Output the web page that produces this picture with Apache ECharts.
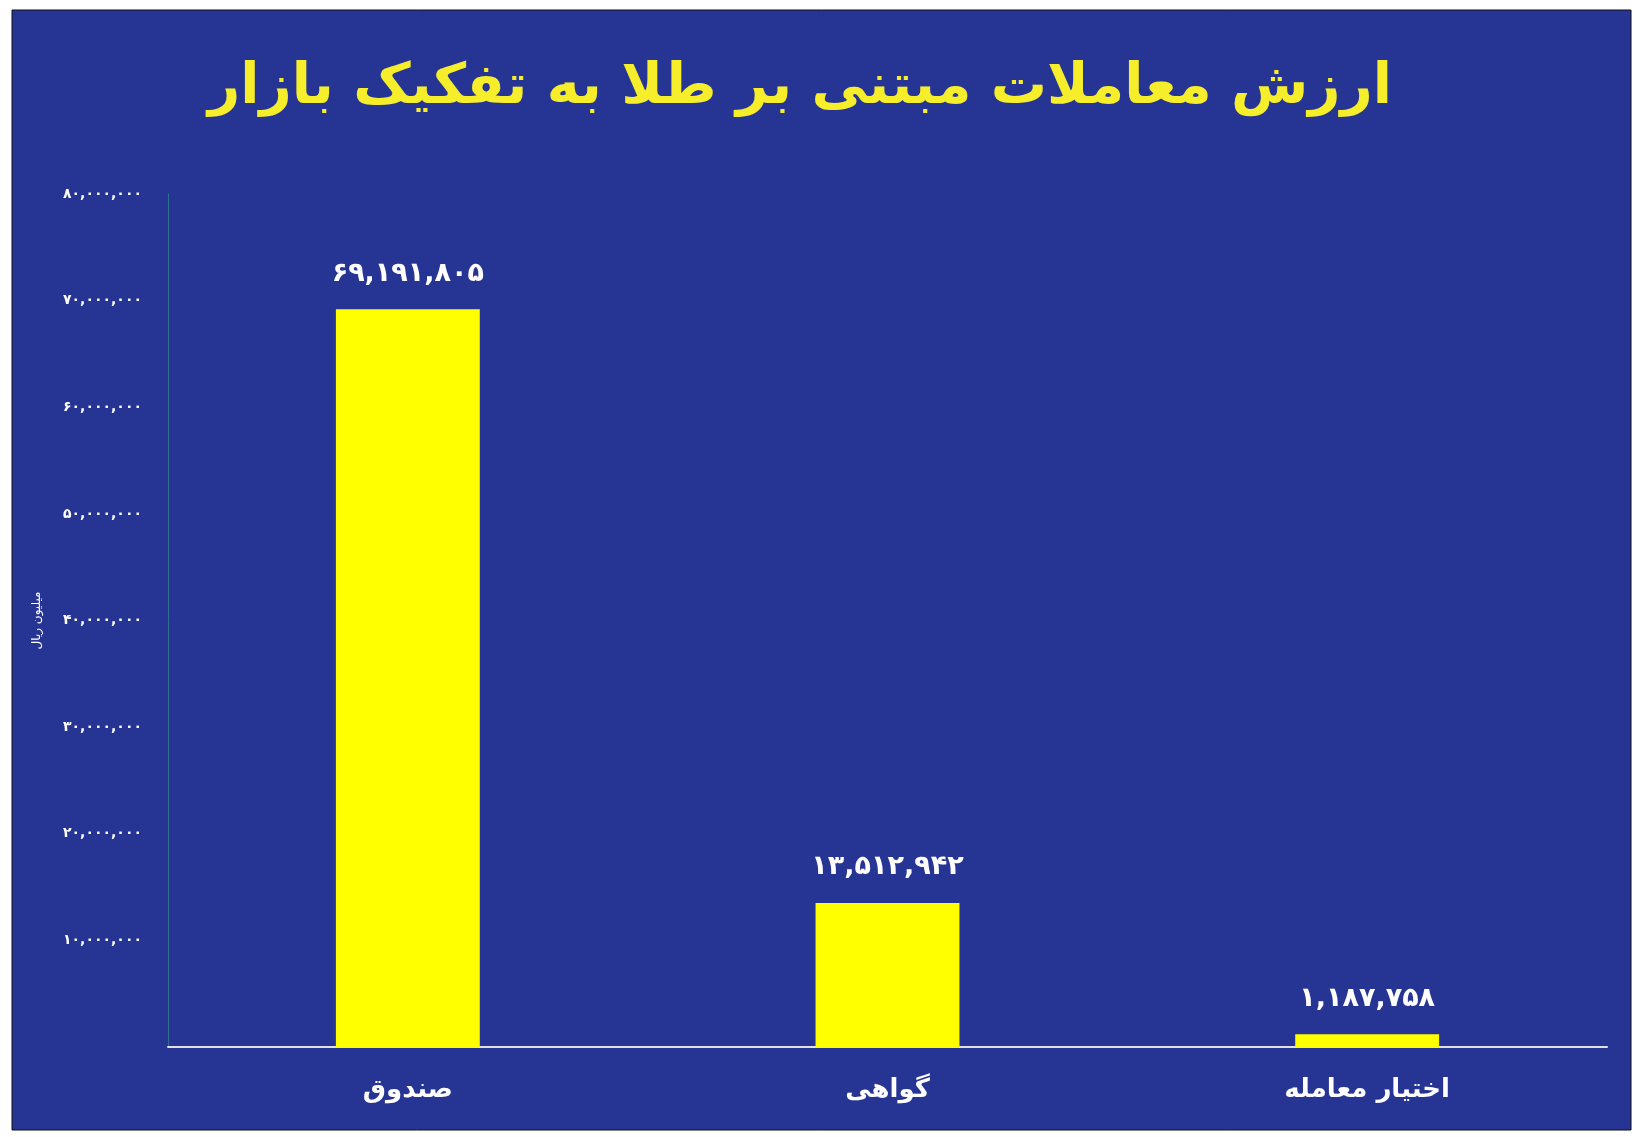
<!DOCTYPE html>
<html><head><meta charset="utf-8">
<script src="https://cdn.jsdelivr.net/npm/echarts@6/dist/echarts.min.js"></script>
<style>html,body{margin:0;padding:0;background:#fff}#c{width:1642px;height:1137px}</style>
</head><body><div id="c"></div>
<script>
const categories = ['صندوق', 'گواهی', 'اختیار معامله'];
const values = [69191805, 13512942, 1187758];
const yTicks = [0, 10000000, 20000000, 30000000, 40000000, 50000000, 60000000, 70000000, 80000000];
const titleText = 'ارزش معاملات مبتنی بر طلا به تفکیک بازار';
const axisName = 'میلیون ریال';

function fa(n) {
  return n.toLocaleString('en-US').replace(/\d/g, d => '۰۱۲۳۴۵۶۷۸۹'[d]);
}
const F = "'DejaVu Sans', sans-serif";
const chart = echarts.init(document.getElementById('c'));
chart.setOption({
  backgroundColor: '#ffffff',
  graphic: [{
    type: 'rect', z: -10, silent: true,
    shape: { x: 12, y: 10, width: 1619, height: 1120 },
    style: { fill: '#263594', stroke: '#111', lineWidth: 1 }
  }],
  title: {
    text: titleText, left: 795, textAlign: 'center', top: 55,
    textStyle: { color: '#f7ee2b', fontSize: 56, fontWeight: 'bold', fontFamily: F }
  },
  grid: { left: 168, right: 35, top: 194, bottom: 90 },
  xAxis: {
    type: 'category', data: categories,
    axisLine: { lineStyle: { color: '#e0e0e0', width: 2 } },
    axisTick: { show: false },
    axisLabel: { color: '#fff', fontSize: 26, fontWeight: 'bold', fontFamily: F, margin: 30 }
  },
  yAxis: {
    type: 'value', min: 0, max: 80000000, interval: 10000000,
    name: axisName, nameLocation: 'middle', nameRotate: 90, nameGap: 125,
    nameTextStyle: { color: '#fff', fontSize: 12, fontFamily: F },
    axisLine: { show: true, lineStyle: { color: '#2f6f8f', width: 1 } },
    axisTick: { show: false },
    splitLine: { show: false },
    axisLabel: {
      color: '#fff', fontSize: 14, fontWeight: 'bold', fontFamily: F, margin: 26,
      formatter: v => v === 0 ? '' : fa(v)
    }
  },
  series: [{
    type: 'bar', data: values, barWidth: '30%',
    itemStyle: { color: '#ffff00' },
    label: {
      show: true, position: 'top', distance: 22,
      color: '#fff', fontSize: 27, fontWeight: 'bold', fontFamily: F,
      formatter: p => fa(p.value)
    }
  }]
});
</script></body></html>
